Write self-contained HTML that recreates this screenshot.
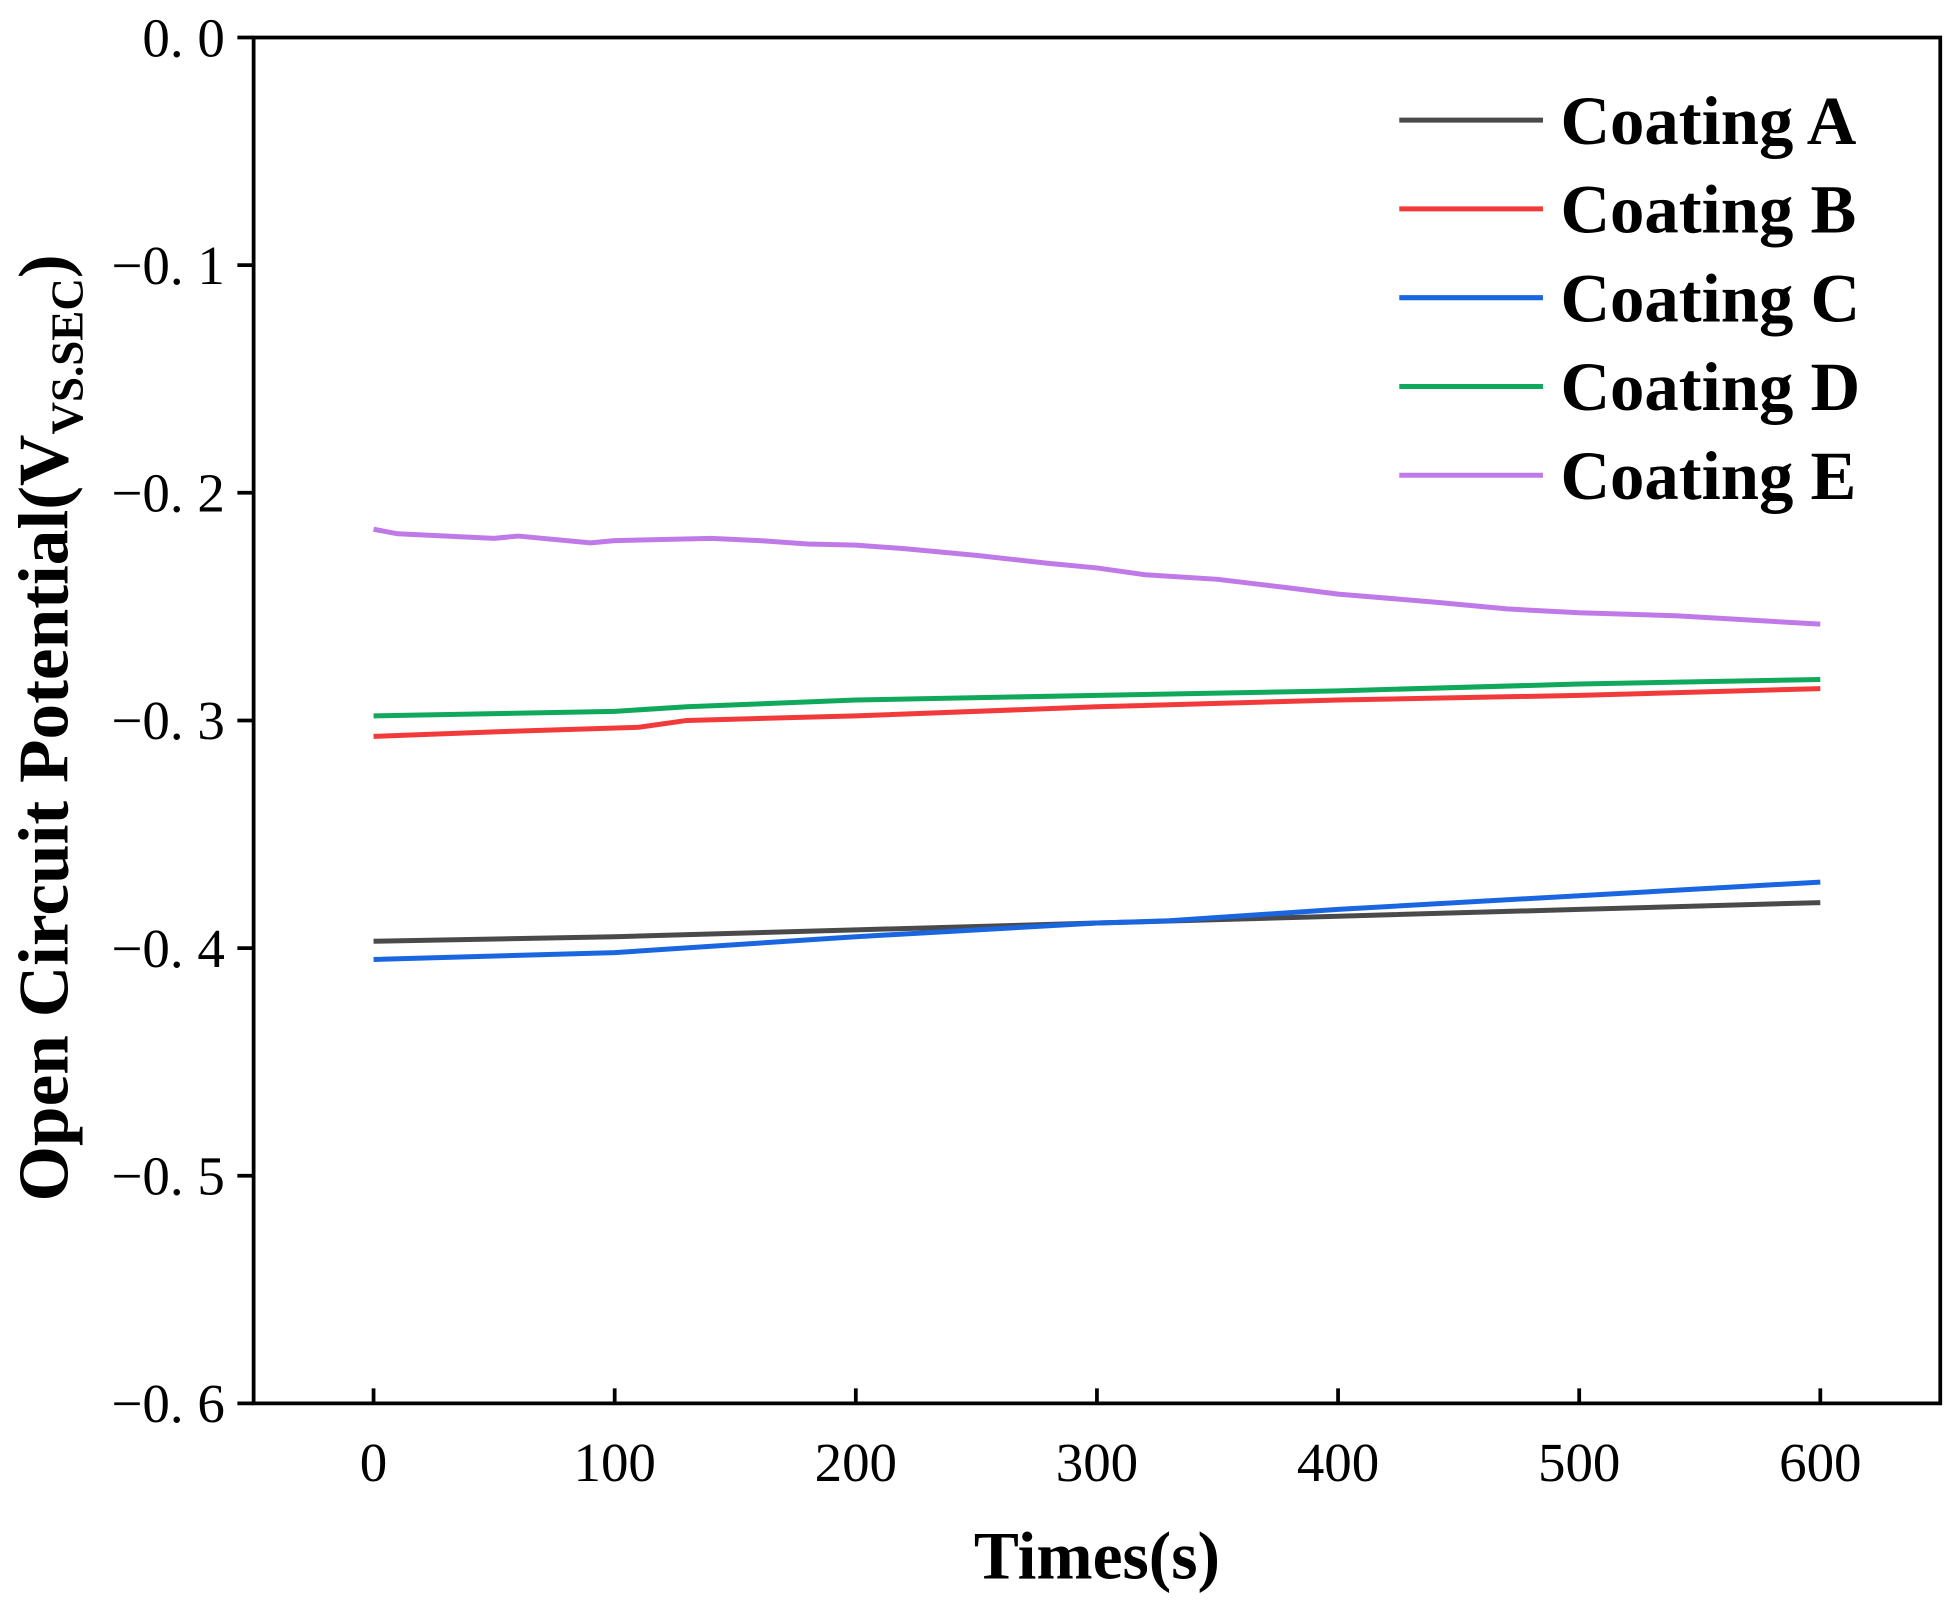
<!DOCTYPE html>
<html><head><meta charset="utf-8"><style>
html,body{margin:0;padding:0;background:#fff;}
svg{display:block;}
</style></head><body>
<svg id="chart" width="1954" height="1601" viewBox="0 0 1564 1280" preserveAspectRatio="none" xmlns="http://www.w3.org/2000/svg" font-family="'Liberation Serif', serif">
<rect x="203" y="30" width="1350" height="1092" fill="none" stroke="#000" stroke-width="3"/>
<g id="axes"></g>
<g id="series"></g>
<g id="legend"></g>
<text x="878" y="1262" font-size="54" font-weight="bold" text-anchor="middle">Times(s)</text>
<text transform="translate(54,582) rotate(-90)" font-size="57" font-weight="bold" text-anchor="middle">Open Circuit Potential(V<tspan font-size="36" dy="12">VS.SEC</tspan><tspan dy="-12">)</tspan></text>
</svg>
<script>
const xTicks=[0,100,200,300,400,500,600];
const yTicks=[0,-0.1,-0.2,-0.3,-0.4,-0.5,-0.6];
const yTickLabels=["0. 0","\u22120. 1","\u22120. 2","\u22120. 3","\u22120. 4","\u22120. 5","\u22120. 6"];
const seriesNames=["Coating A","Coating B","Coating C","Coating D","Coating E"];
const seriesColors=["#4a4a4a","#f23a3a","#1a66e0","#10a85a","#c07ae8"];
const tA=[0,100,200,300,400,500,600];
const vA=[-0.397,-0.395,-0.392,-0.389,-0.386,-0.383,-0.380];
const tB=[0,50,110,130,200,300,400,500,600];
const vB=[-0.307,-0.305,-0.303,-0.300,-0.298,-0.294,-0.291,-0.289,-0.286];
const tC=[0,100,200,300,330,400,500,600];
const vC=[-0.405,-0.402,-0.395,-0.389,-0.388,-0.383,-0.377,-0.371];
const tD=[0,100,130,200,300,400,500,600];
const vD=[-0.298,-0.296,-0.294,-0.291,-0.289,-0.287,-0.284,-0.282];
const tE=[0,10,50,60,90,100,140,160,180,200,220,250,280,300,320,350,380,400,440,470,500,540,600];
const vE=[-0.216,-0.218,-0.220,-0.219,-0.222,-0.221,-0.220,-0.221,-0.2225,-0.223,-0.2245,-0.2275,-0.231,-0.233,-0.236,-0.238,-0.2418,-0.2445,-0.248,-0.251,-0.2527,-0.254,-0.2577];
const NS="http://www.w3.org/2000/svg";
function xs(t){return 299+t*(1457-299)/600;}
function ys(v){return 30+(-v)*1820;}
function mk(tag,attrs,parent){const e=document.createElementNS(NS,tag);for(const k in attrs)e.setAttribute(k,attrs[k]);parent.appendChild(e);return e;}
const axes=document.getElementById('axes');
xTicks.forEach(t=>{
  const l=mk('line',{x1:xs(t),x2:xs(t),y1:1122,y2:1110,stroke:'#000','stroke-width':3},axes);
  
  
  const tx=mk('text',{x:xs(t),y:1184,'font-size':44,'text-anchor':'middle'},axes);
  tx.textContent=t;
  
  
});
yTicks.forEach((v,i)=>{
  const l=mk('line',{x1:190,x2:203,y1:ys(v),y2:ys(v),stroke:'#000','stroke-width':3},axes);
  
  
  const tx=mk('text',{x:180,y:ys(v)+15,'font-size':44,'text-anchor':'end'},axes);
  tx.textContent=yTickLabels[i];
  
  
});
const sg=document.getElementById('series');
const data=[[tA,vA],[tB,vB],[tC,vC],[tD,vD],[tE,vE]];
data.forEach((d,i)=>{
  const pts=d[0].map((t,j)=>xs(t)+','+ys(d[1][j])).join(' ');
  const p=mk('polyline',{points:pts,fill:'none',stroke:seriesColors[i],'stroke-width':4,'stroke-linejoin':'round'},sg);
  
  
});
const lg=document.getElementById('legend');
seriesNames.forEach((n,i)=>{
  const y=96+i*71;
  const l=mk('line',{x1:1120,x2:1235,y1:y,y2:y,stroke:seriesColors[i],'stroke-width':4},lg);
  
  
  const tx=mk('text',{x:1249,y:y+19,'font-size':55,'font-weight':'bold'},lg);
  tx.textContent=n;
  
  
});
</script>
</body></html>
